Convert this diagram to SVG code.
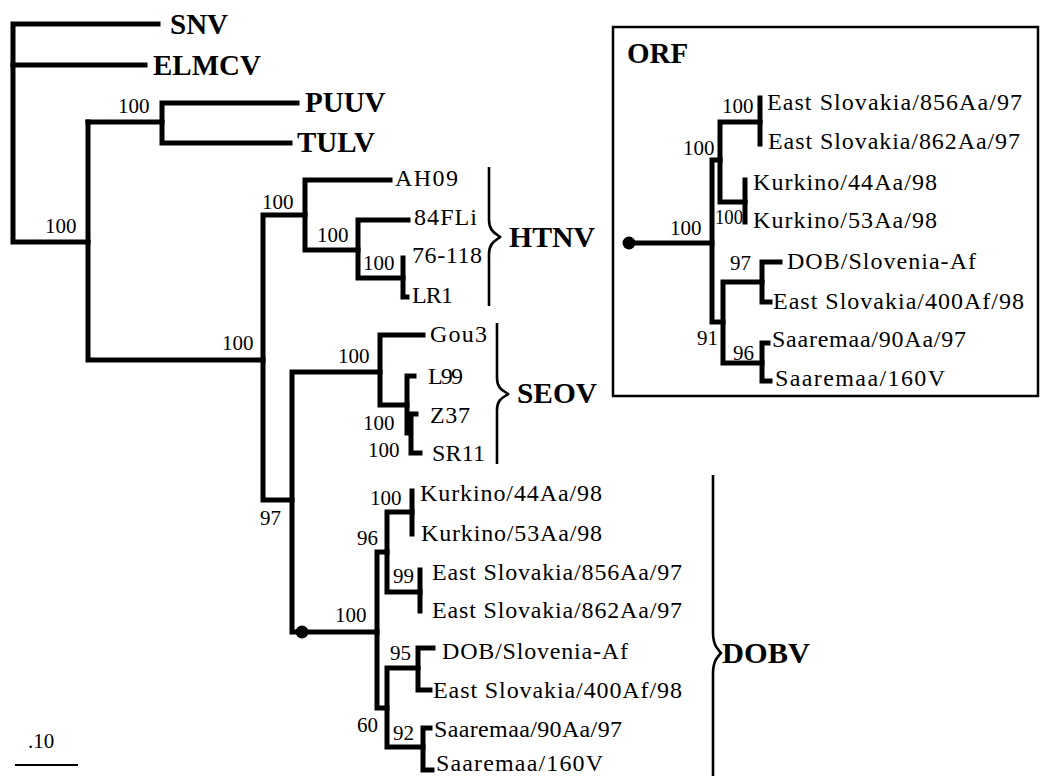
<svg xmlns="http://www.w3.org/2000/svg" width="1049" height="776" viewBox="0 0 1049 776">
<style>
.br{fill:none;stroke:#000;stroke-width:5;stroke-linejoin:miter;stroke-linecap:square}
.brace{fill:none;stroke:#000;stroke-width:2.6}
.lf{font-family:"Liberation Serif","Times New Roman",serif;font-size:24px;fill:#000}
.bs{font-family:"Liberation Serif","Times New Roman",serif;font-size:21px;fill:#000}
.cl{font-family:"Liberation Serif","Times New Roman",serif;font-size:29px;font-weight:bold;fill:#000}
</style>
<rect width="1049" height="776" fill="#fff"/>
<g id="connectors">
<path class="br" d="M158 24 H13 V242 H88"/>
<path class="br" d="M13 65 H145"/>
<path class="br" d="M88 122 V360 H263"/>
<path class="br" d="M88 122 H162"/>
<path class="br" d="M297 103 H162 V143 H290"/>
<path class="br" d="M305 215 H263 V500 H292"/>
<path class="br" d="M390 180 H305 V250 H358"/>
<path class="br" d="M408 220 H358 V278 H403"/>
<path class="br" d="M403 258 V297 H407"/>
<path class="br" d="M380 372 H292 V632 H377"/>
<path class="br" d="M423 335 H380 V405 H407"/>
<path class="br" d="M414 376 H407 V433"/>
<path class="br" d="M416 414 H411 V453 H420"/>
<path class="br" d="M387 552 H377 V708 H387"/>
<path class="br" d="M412 512 H387 V592 H420"/>
<path class="br" d="M412 491 V534"/>
<path class="br" d="M420 570 V611"/>
<path class="br" d="M418 668 H387 V747 H423"/>
<path class="br" d="M433 648 H418 V690 H430"/>
<path class="br" d="M430 728 H423 V770 H432"/>
<circle cx="302" cy="632" r="6.5" fill="#000"/>
<path class="br" d="M629 243 H712"/>
<path class="br" d="M720 160 H712 V322 H723"/>
<path class="br" d="M760 122 H720 V202 H745"/>
<path class="br" d="M760 98 V144"/>
<path class="br" d="M745 180 V222"/>
<path class="br" d="M762 282 H723 V363 H762"/>
<path class="br" d="M780 262 H762 V302 H770"/>
<path class="br" d="M768 343 H762 V381 H770"/>
<circle cx="629" cy="243" r="6.5" fill="#000"/>
<path class="brace" d="M489 167 L489 220 C489 232 497 234 500 237 C497 240 489 242 489 254 L489 306"/>
<path class="brace" d="M497 323 L497 378 C497 390 505 391 508 394 C505 397 497 398 497 410 L497 464"/>
<path class="brace" d="M713 475 L713 632 C713 646 718 649 721 653 C718 657 713 660 713 674 L713 776"/>
<path d="M15 765 H78" stroke="#000" stroke-width="2" fill="none"/>
</g>
<g id="orf-box"><rect x="613" y="27" width="425" height="369" fill="none" stroke="#000" stroke-width="2.5"/><text class="cl" x="627" y="63">ORF</text></g>
<g id="clade-labels">
<g id="n-snv"><text class="cl" x="170" y="34">SNV</text></g>
<g id="n-elmcv"><text class="cl" x="153" y="75">ELMCV</text></g>
<g id="n-puuv"><text class="cl" x="305" y="112">PUUV</text></g>
<g id="n-tulv"><text class="cl" x="297" y="152">TULV</text></g>
<g id="n-htnv"><text class="cl" x="509" y="247" textLength="86" lengthAdjust="spacingAndGlyphs">HTNV</text></g>
<g id="n-seov"><text class="cl" x="517" y="403" textLength="80" lengthAdjust="spacingAndGlyphs">SEOV</text></g>
<g id="n-dobv"><text class="cl" x="722" y="663" textLength="88" lengthAdjust="spacingAndGlyphs">DOBV</text></g>
</g>
<g id="leaves">
<g id="n-ah09"><text class="lf" x="395" y="186" textLength="63" lengthAdjust="spacing">AH09</text></g>
<g id="n-84fli"><text class="lf" x="414" y="225" textLength="63" lengthAdjust="spacing">84FLi</text></g>
<g id="n-76118"><text class="lf" x="412" y="263" textLength="70" lengthAdjust="spacing">76-118</text></g>
<g id="n-lr1"><text class="lf" x="412" y="303" textLength="41" lengthAdjust="spacing">LR1</text></g>
<g id="n-gou3"><text class="lf" x="430" y="342" textLength="57" lengthAdjust="spacing">Gou3</text></g>
<g id="n-l99"><text class="lf" x="428" y="384" textLength="35" lengthAdjust="spacing">L99</text></g>
<g id="n-z37"><text class="lf" x="430" y="423" textLength="40" lengthAdjust="spacing">Z37</text></g>
<g id="n-sr11"><text class="lf" x="432" y="461" textLength="53" lengthAdjust="spacing">SR11</text></g>
<g id="n-k44"><text class="lf" x="420" y="501" textLength="182" lengthAdjust="spacing">Kurkino/44Aa/98</text></g>
<g id="n-k53"><text class="lf" x="421" y="541" textLength="181" lengthAdjust="spacing">Kurkino/53Aa/98</text></g>
<g id="n-es856"><text class="lf" x="432" y="580" textLength="250" lengthAdjust="spacing">East Slovakia/856Aa/97</text></g>
<g id="n-es862"><text class="lf" x="432" y="618" textLength="250" lengthAdjust="spacing">East Slovakia/862Aa/97</text></g>
<g id="n-dob"><text class="lf" x="442" y="659" textLength="186" lengthAdjust="spacing">DOB/Slovenia-Af</text></g>
<g id="n-es400"><text class="lf" x="433" y="698" textLength="249" lengthAdjust="spacing">East Slovakia/400Af/98</text></g>
<g id="n-s90"><text class="lf" x="434" y="737" textLength="188" lengthAdjust="spacing">Saaremaa/90Aa/97</text></g>
<g id="n-s160"><text class="lf" x="436" y="771" textLength="167" lengthAdjust="spacing">Saaremaa/160V</text></g>
<g id="o-es856"><text class="lf" x="767" y="110" textLength="255" lengthAdjust="spacing">East Slovakia/856Aa/97</text></g>
<g id="o-es862"><text class="lf" x="768" y="149" textLength="252" lengthAdjust="spacing">East Slovakia/862Aa/97</text></g>
<g id="o-k44"><text class="lf" x="753" y="190" textLength="184" lengthAdjust="spacing">Kurkino/44Aa/98</text></g>
<g id="o-k53"><text class="lf" x="753" y="228" textLength="184" lengthAdjust="spacing">Kurkino/53Aa/98</text></g>
<g id="o-dob"><text class="lf" x="787" y="269" textLength="189" lengthAdjust="spacing">DOB/Slovenia-Af</text></g>
<g id="o-es400"><text class="lf" x="773" y="309" textLength="251" lengthAdjust="spacing">East Slovakia/400Af/98</text></g>
<g id="o-s90"><text class="lf" x="772" y="347" textLength="194" lengthAdjust="spacing">Saaremaa/90Aa/97</text></g>
<g id="o-s160"><text class="lf" x="775" y="386" textLength="170" lengthAdjust="spacing">Saaremaa/160V</text></g>
</g>
<g id="support">
<text class="bs" x="118" y="113">100</text>
<text class="bs" x="45" y="233">100</text>
<text class="bs" x="222" y="350">100</text>
<text class="bs" x="262" y="209">100</text>
<text class="bs" x="317" y="242">100</text>
<text class="bs" x="363" y="270">100</text>
<text class="bs" x="260" y="525">97</text>
<text class="bs" x="338" y="363">100</text>
<text class="bs" x="363" y="430">100</text>
<text class="bs" x="368" y="457">100</text>
<text class="bs" x="370" y="505">100</text>
<text class="bs" x="357" y="545">96</text>
<text class="bs" x="393" y="583">99</text>
<text class="bs" x="335" y="622">100</text>
<text class="bs" x="390" y="660">95</text>
<text class="bs" x="357" y="732">60</text>
<text class="bs" x="393" y="740">92</text>
<text class="bs" x="670" y="235">100</text>
<text class="bs" x="683" y="155">100</text>
<text class="bs" x="722" y="113">100</text>
<text class="bs" x="715" y="224" textLength="28" lengthAdjust="spacingAndGlyphs">100</text>
<text class="bs" x="730" y="270">97</text>
<text class="bs" x="697" y="345">91</text>
<text class="bs" x="733" y="360">96</text>
<text class="bs" x="28" y="748">.10</text>
</g>
</svg>
